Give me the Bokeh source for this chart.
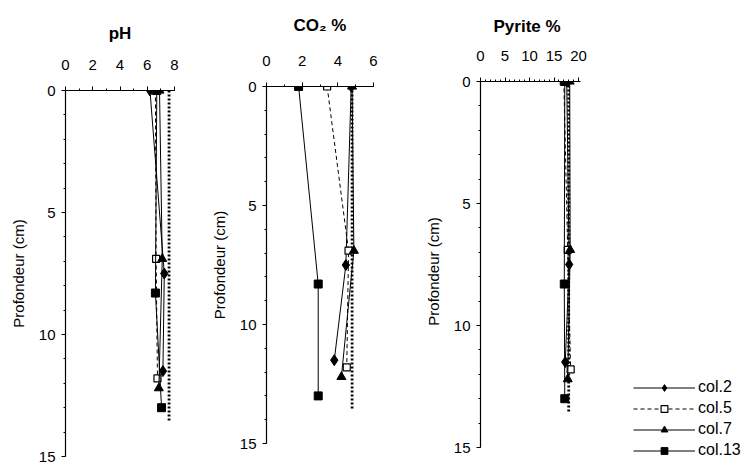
from bokeh.plotting import figure
from bokeh.layouts import row, column
from bokeh.models import Range1d, FixedTicker, Legend, LegendItem
from bokeh.embed import file_html
from bokeh.resources import INLINE

# ---- data ----
series_names = ["col.2", "col.5", "col.7", "col.13"]
depth_c2 = [0, 7.5, 11.5]
depth_c5 = [0, 6.9, 11.8]
depth_c7 = [0, 6.9, 12.2]
depth_c13 = [0, 8.3, 13.0]

ph_c2 = [6.2, 7.25, 7.15]
ph_c5 = [6.6, 6.65, 6.75]
ph_c7 = [6.9, 7.1, 6.85]
ph_c13 = [6.7, 6.6, 7.05]

co2_c2 = [4.75, 4.45, 3.8]
co2_c5 = [3.4, 4.6, 4.5]
co2_c7 = [4.8, 4.9, 4.2]
co2_c13 = [1.8, 2.9, 2.9]

pyr_c2 = [17.6, 18.1, 17.3]
pyr_c5 = [17.0, 17.8, 18.4]
pyr_c7 = [18.2, 18.3, 17.8]
pyr_c13 = [17.2, 17.1, 17.2]

ref_depth = [0, 13.6]
ref_ph = [7.6, 7.6]
ref_co2 = [4.8, 4.8]
ref_pyr = [18.0, 18.0]

ph_ticks = [0, 2, 4, 6, 8]
co2_ticks = [0, 2, 4, 6]
pyr_ticks = [0, 5, 10, 15, 20]
depth_ticks = [0, 5, 10, 15]

FONT = "Liberation Sans"


def style_axis(a):
    a.axis_line_color = "black"
    a.major_tick_line_color = "black"
    a.minor_tick_line_color = "black"
    a.major_label_text_color = "black"
    a.axis_label_text_color = "black"


def panel(title, use_axis_title, title_standoff, xrange_end, xbound, xticks, xminor, values,
          ref_vals, frame_w, top, frame_h, yrange_end, left, right, bottom):
    p = figure(width=left + frame_w + right, height=top + frame_h + bottom,
               x_range=Range1d(0, xrange_end), y_range=Range1d(yrange_end, 0),
               x_axis_location="above", output_backend="svg",
               toolbar_location=None, min_border_left=left, min_border_right=right,
               min_border_top=top, min_border_bottom=bottom)
    p.outline_line_color = None
    p.grid.visible = False
    p.background_fill_color = "white"
    p.border_fill_color = "white"

    ax = p.xaxis[0]
    style_axis(ax)
    ax.ticker = FixedTicker(ticks=xticks, minor_ticks=xminor)
    ax.bounds = (0, xbound)
    if use_axis_title:
        ax.axis_label = title
        ax.axis_label_text_font = FONT
        ax.axis_label_text_font_style = "bold"
        ax.axis_label_text_font_size = "17px"
        ax.axis_label_standoff = title_standoff
    else:
        p.title.text = title
        p.title.text_color = "black"
        p.title.text_font = FONT
        p.title.text_font_style = "bold"
        p.title.text_font_size = "17px"
        p.title.align = "left"
        p.title.offset = 13
        p.title.standoff = title_standoff
    ax.major_label_text_font = FONT
    ax.major_label_text_font_size = "15px"
    ax.major_label_standoff = 17
    ax.major_tick_out = 4
    ax.major_tick_in = 0
    ax.minor_tick_out = 2
    ax.minor_tick_in = 0
    ax.axis_line_width = 1.2

    ay = p.yaxis[0]
    style_axis(ay)
    ay.ticker = FixedTicker(ticks=depth_ticks, minor_ticks=list(range(16)))
    ay.bounds = (0, 15)
    ay.axis_label = "Profondeur (cm)"
    ay.axis_label_text_font = FONT
    ay.axis_label_text_font_style = "normal"
    ay.axis_label_text_font_size = "15px"
    ay.axis_label_standoff = 9
    ay.major_label_text_font = FONT
    ay.major_label_text_font_size = "15px"
    ay.major_label_standoff = 6
    ay.major_tick_out = 4
    ay.major_tick_in = 0
    ay.minor_tick_out = 2
    ay.minor_tick_in = 0
    ay.axis_line_width = 1.2

    # reference dotted line
    p.line(ref_vals, ref_depth, line_color="black", line_width=2.8, line_dash="2 2")

    depths = [depth_c2, depth_c5, depth_c7, depth_c13]
    dashes = ["solid", "4 3", "solid", "solid"]
    items = []
    for i, (xv, dv) in enumerate(zip(values, depths)):
        lr = p.line(xv, dv, line_color="black", line_width=1, line_dash=dashes[i])
        if i == 0:
            mr = p.scatter(xv, dv, marker="diamond", size=11, fill_color="black", line_color="black")
        elif i == 1:
            mr = p.scatter(xv, dv, marker="square", size=7, fill_color="white",
                           line_color="black", line_width=1.2)
        elif i == 2:
            mr = p.scatter(xv, dv, marker="triangle", size=9, fill_color="black", line_color="black")
        else:
            mr = p.scatter(xv, dv, marker="square", size=8, fill_color="black", line_color="black")
        items.append(LegendItem(label=series_names[i], renderers=[lr, mr]))
    return p, items


# pH: frame x 65..174, y 90..456
p1, _ = panel("pH", True, 14, 8, 8, ph_ticks, list(range(9)), [ph_c2, ph_c5, ph_c7, ph_c13],
              ref_ph, 109, 90, 366, 15, 65, 20, 9)
# CO2: frame x 266..373, y 86..443
p2, _ = panel("CO\u2082 %", True, 18, 6, 6, co2_ticks, list(range(7)),
              [co2_c2, co2_c5, co2_c7, co2_c13], ref_co2, 107, 86, 357, 15, 72, 20, 22)
# Pyrite: axis x 480..580 (0..20.5), frame extends to the right for the legend
pyr_px_per_unit = 4.9
pyr_frame_w = 270
pyr_frame_h = 380
pyr_px_per_cm = 24.4
p3, items = panel("Pyrite %", False, 23, pyr_frame_w / pyr_px_per_unit, 20.5, pyr_ticks,
                  list(range(21)), [pyr_c2, pyr_c5, pyr_c7, pyr_c13], ref_pyr,
                  pyr_frame_w, 81, pyr_frame_h, pyr_frame_h / pyr_px_per_cm, 87, 2, 4)

legend = Legend(items=items, location=(153, 2), orientation="vertical")
legend.border_line_color = None
legend.background_fill_alpha = 0
legend.padding = 0
legend.margin = 0
legend.spacing = 3
legend.glyph_width = 62
legend.glyph_height = 17
legend.label_height = 17
legend.label_standoff = 3
legend.label_text_font = FONT
legend.label_text_font_size = "16px"
legend.label_text_color = "black"
p3.add_layout(legend, "center")

layout = row(column(p1), column(p2), column(p3))
open("out.html", "w").write(file_html(layout, INLINE))
